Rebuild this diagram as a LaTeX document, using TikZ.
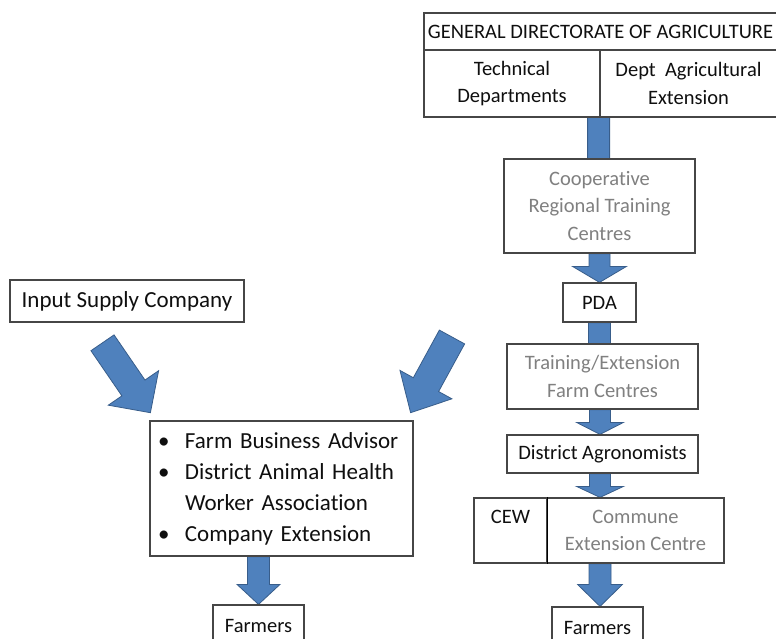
\documentclass[tikz,border=0pt]{standalone}
\usepackage{fontspec}
\setmainfont{Carlito}[Ligatures=NoCommon]
\usetikzlibrary{calc,backgrounds}
\definecolor{boxline}{RGB}{70,70,70}
\definecolor{txtgray}{RGB}{128,128,128}
\definecolor{txtblack}{RGB}{15,15,15}
\definecolor{arrfill}{RGB}{79,129,189}
\definecolor{arrline}{RGB}{56,93,138}
\tikzset{
  box/.style={draw=boxline, line width=1.2pt, fill=white, inner sep=0pt, align=center,
              text=txtblack, font=\fontsize{20.5}{27.5}\selectfont},
  graybox/.style={box, text=txtgray},
  bigbox/.style={box, font=\fontsize{23}{31}\selectfont},
  blockarr/.style={fill=arrfill, draw=arrline, line width=0.8pt, line join=miter},
}
\newcommand\blockarrow[5]{%
  \coordinate (ba-hb) at ($(#2)!#5!(#1)$);
  \draw[blockarr] ($(#1)!#3!90:(#2)$) -- ($(ba-hb)!#3!90:(#2)$) -- ($(ba-hb)!#4!90:(#2)$)
     -- (#2) -- ($(ba-hb)!#4!-90:(#2)$) -- ($(ba-hb)!#3!-90:(#2)$) -- ($(#1)!#3!-90:(#2)$) -- cycle;
}
\begin{document}
\begin{tikzpicture}[x=1pt,y=-1pt]
\useasboundingbox (0,0) rectangle (776,639);
% right column
\node[box, minimum width=353pt, minimum height=37pt] (gda) at (600.5,31.5) {GENERAL DIRECTORATE OF AGRICULTURE};
\node[box, minimum width=176pt, minimum height=67pt] (tech) at (512,83.5) {Technical\\Departments};
\node[box, minimum width=177pt, minimum height=67pt] (dept) at (688.5,83.5) {Dept\ \ Agricultural\\Extension};
\node[graybox, minimum width=191pt, minimum height=94pt] (coop) at (599.5,206) {Cooperative\\Regional Training\\Centres};
\node[box, minimum width=73pt, minimum height=39pt] (pda) at (599.5,302.5) {PDA};
\node[graybox, minimum width=191pt, minimum height=65pt] (train) at (602.5,376.5) {Training/Extension\\Farm Centres};
\node[box, minimum width=191pt, minimum height=38pt] (dist) at (602.5,454) {District Agronomists};
\node[box, minimum width=73pt, minimum height=65pt] (cew) at (510.5,530.5) {CEW\\\phantom{C}};
\node[graybox, minimum width=177pt, minimum height=65pt] (cec) at (635.5,530.5) {Commune\\Extension Centre};
\node[box, minimum width=91pt, minimum height=41pt] (farmersR) at (597.5,627.5) {Farmers};
\draw[black, line width=1.2pt] (cew.north east) -- (cew.south east);
% left column
\node[bigbox, minimum width=234pt, minimum height=42pt] (input) at (127,301) {Input Supply Company};
\node[bigbox, minimum height=135pt, text width=247pt, inner xsep=8pt, align=left] (bullets) at (281.5,488.5)
  {\makebox[27pt][l]{\textbullet}Farm Business Advisor\\
   \makebox[27pt][l]{\textbullet}District Animal Health\\
   \makebox[27pt][l]{}Worker Association\\
   \makebox[27pt][l]{\textbullet}Company Extension};
\node[box, minimum width=91pt, minimum height=41pt] (farmersL) at (258.5,625.5) {Farmers};
% coordinates
\coordinate (axis) at (600,0);
\coordinate (d1s) at (102.5,342.8);
\coordinate (d2s) at (452,337);
\coordinate (d1e) at ($(bullets.north west)+(1,-7.7)$);
\coordinate (d2e) at ($(bullets.north east)+(-3,-7.7)$);
\coordinate (a1s) at ($(tech.south east)+(-2,0)$);
\coordinate (a1e) at ($(coop.north -| a1s)+(0,26)$);
\coordinate (a3e) at ($(train.north -| pda.south)+(0,26)$);
\coordinate (a6s) at ($(cew.south west)!0.5!(cec.south east)$);
\begin{pgfonlayer}{background}
\blockarrow{a1s}{a1e}{11pt}{27pt}{16pt}
\blockarrow{coop.south}{pda.north}{10.5pt}{27pt}{16pt}
\blockarrow{pda.south}{a3e}{11pt}{27pt}{16pt}
\blockarrow{train.south -| axis}{dist.north -| axis}{10.5pt}{23.5pt}{12pt}
\blockarrow{dist.south -| axis}{cec.north -| axis}{10.5pt}{23.5pt}{11pt}
\blockarrow{a6s -| axis}{farmersR.north -| axis}{11pt}{22.5pt}{22pt}
\blockarrow{bullets.south -| farmersL.north}{farmersL.north}{11pt}{21.5pt}{20pt}
\blockarrow{d1s}{d1e}{14pt}{30.5pt}{30pt}
\blockarrow{d2s}{d2e}{14.4pt}{29.6pt}{32pt}
\end{pgfonlayer}
\end{tikzpicture}
\end{document}
